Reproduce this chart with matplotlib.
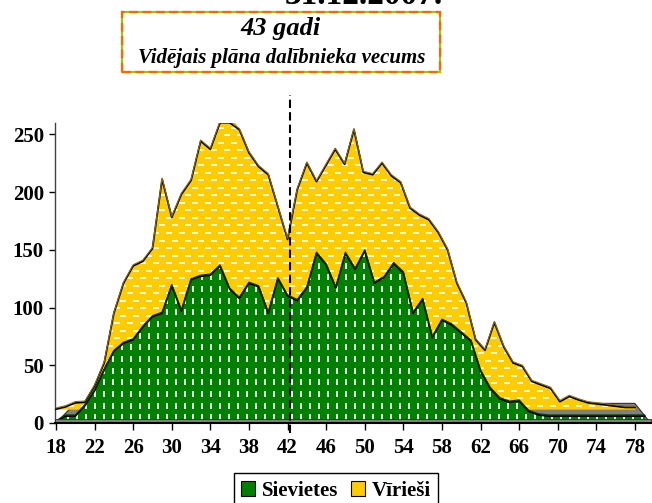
import numpy as np
import matplotlib
matplotlib.use("Agg")
import matplotlib.pyplot as plt
from matplotlib.patches import Patch, Rectangle, Polygon
from matplotlib.font_manager import FontProperties

# ---------------- data ----------------
ages = np.arange(18, 80)
sievietes = np.array([
    1, 6, 6, 15, 28, 46, 62, 69, 72, 83,          # 18-27
    92, 95, 119, 97, 124, 127, 128, 136, 116, 108,  # 28-37
    121, 118, 95, 125, 110, 106, 117, 147, 137, 117,  # 38-47
    147, 133, 149, 121, 126, 138, 130, 95, 107, 74,   # 48-57
    89, 85, 78, 71, 45, 30, 21, 18, 19, 10,           # 58-67
    7, 6, 6, 6, 6, 6, 6, 6, 6, 6, 6, 6])              # 68-79
viriesi = np.array([
    0, 2, 5.5, 6, 20, 40, 83, 109, 124, 128,          # 18-27
    139, 199, 166, 186, 198, 232, 225, 250, 256, 242,  # 28-37
    222, 210, 203, 175, 147, 190, 213, 197, 211, 225,  # 38-47
    212, 242, 205, 203, 213, 202, 196, 174, 168, 164,  # 48-57
    153, 138, 109, 92, 60, 51, 75, 54, 40, 37,         # 58-67
    24, 21, 18, 6.5, 11, 8, 5.5, 4.5, 3.5, 2.5, 1.5, 1.5])  # 68-79
x_ticks = list(range(18, 79, 4))
y_ticks = [0, 50, 100, 150, 200, 250]
title = "31.12.2007."
box_line1 = "43 gadi"
box_line2 = "Vidējais plāna dalībnieka vecums"
legend_labels = ["Sievietes", "Vīrieši"]
mean_line_age = 42.2

# ---------------- style ----------------
GREEN = "#008000"
YELLOW = "#FFCC00"
GREY = "#808080"
DEPTH = 12          # raised baseline of the back (yellow) row (3D look)
FLOOR_BACK = 17
FLOOR_FRONT = 3.5
YMAX = 260
XMIN, XMAX = 17.9, 79.66

font = "Liberation Serif"
fp_tick = FontProperties(family=font, weight="bold", size=15)

fig = plt.figure(figsize=(6.52, 5.03), dpi=100)
ax = fig.add_axes([55 / 652, 80 / 503, 596 / 652, 300.3 / 503])
ax.set_xlim(XMIN, XMAX)
ax.set_ylim(0, YMAX)

# back-row x positions slightly compressed (perspective of the 3D chart)
ages_y = ages - 0.03 * np.maximum(ages - 45, 0)

# floor (3D)
floor = Polygon([(ages[0], 0), (XMAX - 0.05, 0), (ages_y[-1], FLOOR_BACK),
                 (ages[0] + 2, FLOOR_BACK)], closed=True, fc=GREY,
                ec="#303030", lw=0.8, zorder=1)
ax.add_patch(floor)

# yellow (back row)
ytop = DEPTH + viriesi
yfill = ax.fill_between(ages_y, DEPTH, ytop, color=YELLOW, lw=0, zorder=2)
# green (front row)
gfill = ax.fill_between(ages, 0, sievietes, color=GREEN, lw=0, zorder=3)

# dash patterns inside the areas
gx, gy = np.meshgrid(np.arange(XMIN + 0.4, XMAX, 0.93), np.arange(5, YMAX, 10.1))
gl, = ax.plot(gx.ravel(), gy.ravel(), ls="none", marker="|", ms=4.4, mew=1.4,
              color="#e6f5e6", zorder=3.5)
gl.set_clip_path(gfill.get_paths()[0], ax.transData)

pts_x, pts_y = [], []
for j, yy in enumerate(np.arange(DEPTH + 3, YMAX, 6.5)):
    off = 0.0 if j % 2 == 0 else 0.675
    xs = np.arange(XMIN + 0.3 + off, XMAX, 1.35)
    pts_x.extend(xs)
    pts_y.extend([yy] * len(xs))
yl, = ax.plot(pts_x, pts_y, ls="none", marker="_", ms=4.8, mew=1.4,
              color="#fff8e0", zorder=2.5)
yl.set_clip_path(yfill.get_paths()[0], ax.transData)

# outlines
ax.plot(ages_y, np.minimum(ytop, YMAX), color="black", lw=1.3, zorder=4)
ax.plot(ages_y, np.minimum(ytop, YMAX) + 1.0, color="#8a6d00", lw=0.8, zorder=4)
ax.plot(ages, sievietes, color="black", lw=1.3, zorder=5)
ax.plot(ages, sievietes + 1.0, color="#004000", lw=0.8, zorder=5)

# front floor strip
ax.fill_between([XMIN, XMAX], 0, FLOOR_FRONT, color=GREY, ec="#303030", lw=0.6,
                zorder=6)

# mean-age dashed line
ax.plot([mean_line_age, mean_line_age], [-9, 284], ls=(0, (4, 2)), color="black",
        lw=1.5, clip_on=False, zorder=7)

# axes styling
for s in ("top", "right"):
    ax.spines[s].set_visible(False)
ax.spines["left"].set_color("#404040")
ax.spines["left"].set_linewidth(1.0)
ax.spines["bottom"].set_color("black")
ax.spines["bottom"].set_linewidth(1.5)
ax.spines["bottom"].set_zorder(8)
ax.set_xticks(x_ticks)
ax.set_yticks(y_ticks)
ax.set_xticklabels([str(t) for t in x_ticks], fontproperties=fp_tick)
ax.set_yticklabels([str(t) for t in y_ticks], fontproperties=fp_tick)
ax.tick_params(axis="x", length=5, width=1, pad=6, direction="out")
ax.tick_params(axis="y", length=4, width=1, pad=4, direction="out")

# title (mostly cut off at the top, as in the source)
fig.text(364 / 652, 1 - 4 / 503, title, ha="center", va="baseline",
         fontfamily=font, fontweight="bold", fontsize=24)

# annotation box
bx0, by0, bx1, by1 = 122, 12, 440, 72
rect_kw = dict(xy=(bx0 / 652, 1 - by1 / 503), width=(bx1 - bx0) / 652,
               height=(by1 - by0) / 503, transform=fig.transFigure, fill=False)
fig.patches.append(Rectangle(**rect_kw, ec="#99CC00", lw=1.6))
fig.patches.append(Rectangle(**rect_kw, ec="#FF6600", lw=1.6, ls=(0, (4, 2))))
fig.text(281 / 652, 1 - 29 / 503, box_line1, ha="center", va="center",
         fontfamily=font, fontweight="bold", fontstyle="italic", fontsize=19)
fig.text(282 / 652, 1 - 58 / 503, box_line2, ha="center", va="center",
         fontfamily=font, fontweight="bold", fontstyle="italic", fontsize=15)

# legend
handles = [Patch(fc=GREEN, ec="black", lw=0.8), Patch(fc=YELLOW, ec="black", lw=0.8)]
leg = fig.legend(handles, legend_labels, loc="upper center",
                 bbox_to_anchor=(335.7 / 652, 1 - 473.3 / 503), ncol=2,
                 frameon=True, fancybox=False, edgecolor="black", framealpha=1,
                 prop=FontProperties(family=font, weight="bold", size=15),
                 handlelength=0.7, handleheight=0.7, handletextpad=0.3,
                 columnspacing=0.6, borderpad=0.35, borderaxespad=0)
leg.get_frame().set_linewidth(1.0)

fig.savefig("out.png", dpi=100)
